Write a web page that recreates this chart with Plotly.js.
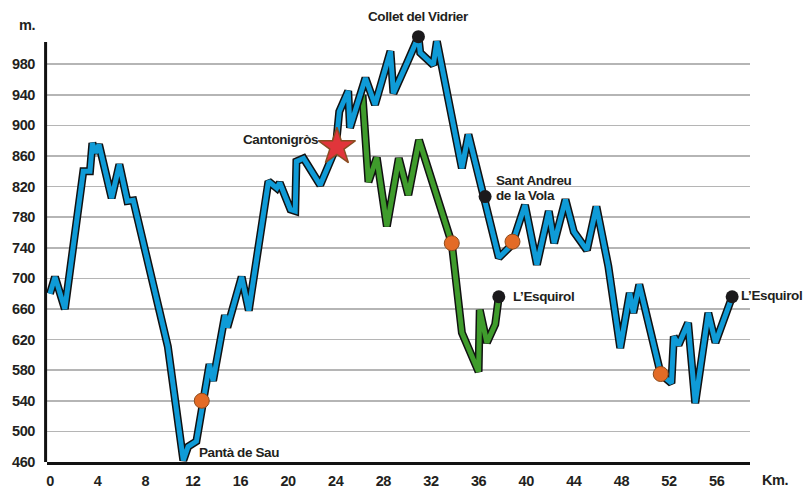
<!DOCTYPE html>
<html>
<head>
<meta charset="utf-8">
<script src="https://cdn.plot.ly/plotly-3.0.1.min.js"></script>
<style>
html,body{margin:0;padding:0;background:#fff;}
svg text{letter-spacing:-0.4px;}
</style>
</head>
<body>
<div id="chart" style="width:803px;height:490px;"></div>
<script>
// Main route (blue)
const blueKm  = [0, 0.42, 1.25, 2.8, 3.36, 3.56, 3.84, 4.12, 5.18, 5.83, 6.5, 7.0, 9.9, 11.2, 11.6, 12.3, 13.4, 13.7, 14.7, 14.9, 16.1, 16.7, 18.35, 19.05, 19.3, 20.2, 20.6, 20.7, 21.3, 22.7, 24.0, 24.3, 25.05, 25.2, 26.5, 27.3, 28.6, 28.85, 30.0, 30.95, 31.1, 32.2, 32.5, 34.6, 35.15, 37.7, 38.8, 39.9, 40.9, 41.9, 42.35, 43.3, 44.0, 45.1, 45.9, 46.9, 47.9, 48.7, 49.0, 49.5, 51.3, 52.2, 52.4, 52.8, 53.6, 54.2, 55.3, 55.9, 57.3];
const blueAlt = [680, 702, 660, 840, 840, 877, 864, 875, 805, 849, 801, 802, 611, 462, 480, 487, 588, 566, 652, 636, 702, 658, 827, 818, 825, 790, 788, 853, 857, 822, 870, 918, 945, 897, 962, 927, 997, 942, 982, 1016, 995, 979, 1010, 844, 888, 727, 744, 796, 718, 788, 746, 803, 761, 737, 794, 716, 609, 681, 655, 692, 575, 563, 624, 613, 642, 537, 655, 616, 676];

// Variant route (green)
const greenKm  = [26.25, 26.75, 27.45, 28.3, 29.3, 30.1, 31.0, 33.75, 34.6, 36.0, 36.1, 36.7, 37.4, 37.7];
const greenAlt = [940, 826, 858, 768, 857, 809, 881, 746, 629, 578, 659, 616, 640, 676];

// Named points (black dots)
const placeKm  = [30.95, 36.55, 37.7, 57.3];
const placeAlt = [1016, 807, 676, 676];
const placeNames = ["Collet del Vidrier", "Sant Andreu|de la Vola", "L’Esquirol", "L’Esquirol"];

// Orange checkpoints
const checkKm  = [12.75, 33.75, 38.85, 51.3];
const checkAlt = [540, 746, 748, 575];

// Star (start)
const starKm = [24.1];
const starAlt = [872];
const starName = "Cantonigròs";

// Low point label
const lowKm = [11.2];
const lowAlt = [462];
const lowName = "Pantà de Sau";

const yTicks = [460, 500, 540, 580, 620, 660, 700, 740, 780, 820, 860, 900, 940, 980];
const xTicks = [0, 4, 8, 12, 16, 20, 24, 28, 32, 36, 40, 44, 48, 52, 56];
const yAxisTop = 1009;

const FONT = "'Liberation Sans', Arial, Helvetica, sans-serif";
const TXT = '#231f20';
const tf = (s) => ({family: FONT, size: s, color: TXT, weight: 'bold'});

const traces = [
  {x: greenKm, y: greenAlt, mode: 'lines', line: {color: '#111', width: 8}, hoverinfo: 'skip'},
  {x: greenKm, y: greenAlt, mode: 'lines', line: {color: '#3f9c2c', width: 5}, hoverinfo: 'skip'},
  {x: blueKm, y: blueAlt, mode: 'lines', line: {color: '#111', width: 8}, hoverinfo: 'skip'},
  {x: blueKm, y: blueAlt, mode: 'lines', line: {color: '#0f9bd7', width: 5}, hoverinfo: 'skip'},
  {x: checkKm, y: checkAlt, mode: 'markers', marker: {size: 15, color: '#e36b26', line: {color: '#8d4b1c', width: 1}}, cliponaxis: false, hoverinfo: 'skip'},
  {x: placeKm, y: placeAlt, mode: 'markers', marker: {size: 13, color: '#1b1a1c'}, cliponaxis: false, hoverinfo: 'skip'},
  {x: starKm, y: starAlt, mode: 'markers', marker: {symbol: 'star', size: 28, color: '#e1353b', line: {color: '#8a4d22', width: 1.5}}, cliponaxis: false, hoverinfo: 'skip'}
];

const f = tf(13.5);
const annotations = [
  {x: placeKm[0], y: placeAlt[0], text: placeNames[0], showarrow: false, xanchor: 'center', yanchor: 'middle', yshift: 20, font: f},
  {x: placeKm[1], y: placeAlt[1], text: placeNames[1].split('|')[0], showarrow: false, xanchor: 'left', yanchor: 'middle', xshift: 10, yshift: 16, borderpad: 0, font: f},
  {x: placeKm[1], y: placeAlt[1], text: placeNames[1].split('|')[1], showarrow: false, xanchor: 'left', yanchor: 'middle', xshift: 10, yshift: 1.5, borderpad: 0, font: f},
  {x: placeKm[2], y: placeAlt[2], text: placeNames[2], showarrow: false, xanchor: 'left', yanchor: 'middle', xshift: 12, yshift: 0, font: f},
  {x: placeKm[3], y: placeAlt[3], text: placeNames[3], showarrow: false, xanchor: 'left', yanchor: 'middle', xshift: 7, yshift: 1, font: f},
  {x: starKm[0], y: starAlt[0], text: starName, showarrow: false, xanchor: 'right', yanchor: 'middle', xshift: -17, yshift: 7, font: f},
  {x: lowKm[0], y: lowAlt[0], text: lowName, showarrow: false, xanchor: 'left', yanchor: 'middle', xshift: 14, yshift: 8, font: f},
  {xref: 'paper', yref: 'paper', x: -0.0284, y: 1.0116, text: 'm.', showarrow: false, xanchor: 'center', yanchor: 'middle', font: tf(14.5)},
  {xref: 'paper', yref: 'paper', x: 1.036, y: 0, text: 'Km.', showarrow: false, xanchor: 'center', yanchor: 'middle', yshift: -18, font: tf(14.5)}
];

const layout = {
  width: 803, height: 490,
  margin: {l: 47, r: 53, t: 30, b: 28},
  paper_bgcolor: '#ffffff', plot_bgcolor: '#ffffff',
  showlegend: false,
  xaxis: {
    range: [-0.25, 58.8], tickvals: xTicks, ticktext: xTicks.map(String),
    showgrid: false, zeroline: false, showline: true, linecolor: '#111', linewidth: 3,
    ticks: '', ticklabelstandoff: 4,
    tickfont: tf(14.5)
  },
  yaxis: {
    range: [460, 1024.7], tickvals: yTicks, ticktext: yTicks.map(String),
    showgrid: true, gridcolor: '#b5b5b5', gridwidth: 1.5,
    zeroline: false, showline: false,
    ticks: '', ticklabelstandoff: 11,
    tickfont: tf(14.5)
  },
  shapes: [
    {type: 'line', xref: 'paper', yref: 'y', x0: -0.002, x1: -0.002, y0: 458, y1: yAxisTop, line: {color: '#111', width: 3}, layer: 'above'}
  ],
  annotations: annotations
};

Plotly.newPlot('chart', traces, layout, {displayModeBar: false, staticPlot: true});
</script>
</body>
</html>
